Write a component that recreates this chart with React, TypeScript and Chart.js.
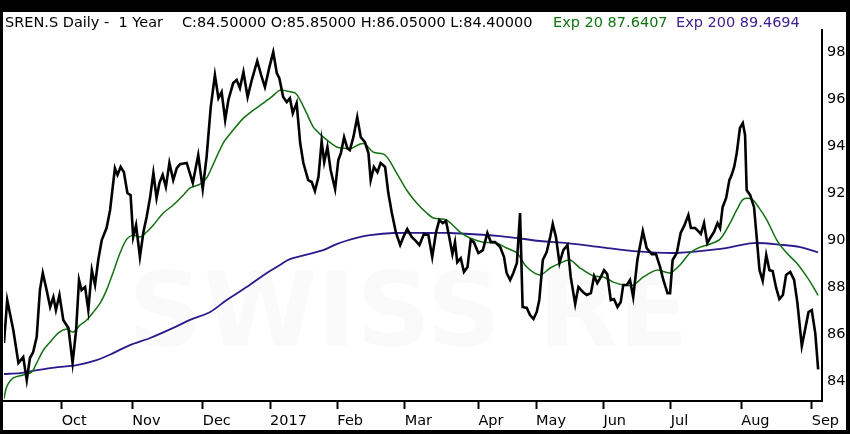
import React, { useEffect, useRef } from 'react';
import { Chart, registerables } from 'chart.js';

Chart.register(...registerables);

// Trading-day index (0 = first session shown) and daily close of SREN.S
const closeDays = [
  0.0, 1.0, 2.9, 4.5, 6.0, 7.1, 8.1, 9.1, 10.2, 11.2, 12.1, 13.3, 14.4, 15.4, 16.2, 17.3, 18.5, 20.1, 21.4, 22.5,
  23.4, 24.2, 25.3, 26.3, 27.4, 28.4, 29.4, 30.5, 32.0, 33.1, 34.6, 35.4, 36.4, 37.4, 38.5, 39.5, 40.3, 41.2, 42.4, 43.5,
  44.5, 45.6, 46.6, 47.6, 48.5, 49.5, 50.5, 51.6, 52.8, 53.9, 54.9, 57.0, 58.9, 60.6, 62.0, 63.2, 64.5, 65.8, 66.9, 67.9,
  69.0, 70.0, 71.5, 72.6, 73.6, 74.7, 76.0, 77.3, 79.0, 80.4, 81.4, 82.8, 84.0, 85.1, 85.9, 87.1, 88.2, 89.2, 90.1, 91.3,
  92.4, 93.4, 94.9, 96.0, 97.0, 98.1, 99.1, 99.9, 100.9, 101.9, 103.3, 104.3, 105.1, 106.1, 107.1, 107.9, 109.0, 110.2, 111.3, 112.6,
  113.7, 114.4, 115.4, 116.5, 117.5, 118.9, 119.9, 121.0, 122.3, 123.6, 124.6, 125.8, 127.2, 128.2, 129.6, 131.0, 132.4, 133.6, 134.8, 135.8,
  136.9, 137.9, 138.9, 139.9, 140.7, 141.4, 142.5, 143.5, 144.6, 145.6, 146.6, 148.0, 149.4, 150.8, 151.9, 153.2, 154.8, 156.0, 156.8, 157.9,
  158.9, 160.0, 161.0, 161.8, 163.1, 164.1, 165.2, 166.2, 167.0, 168.1, 169.3, 170.4, 171.2, 172.2, 173.3, 174.5, 175.8, 176.8, 178.2, 179.2,
  180.6, 181.8, 183.1, 184.1, 185.1, 186.2, 187.2, 188.2, 189.3, 190.3, 191.4, 192.4, 193.2, 194.3, 195.3, 196.3, 197.6, 199.3, 200.5, 202.1,
  203.4, 204.7, 205.7, 207.0, 207.8, 208.6, 209.9, 211.1, 212.2, 213.5, 214.3, 215.6, 216.6, 217.4, 218.4, 219.4, 220.5, 221.5, 222.6, 223.4,
  224.2, 225.3, 226.3, 227.0, 227.8, 228.6, 229.6, 230.5, 231.2, 231.7, 232.8, 234.0, 234.9, 235.7, 236.7, 237.8, 238.8, 239.8, 240.9, 241.9,
  243.0, 244.0, 245.3, 246.5, 247.5, 248.9, 249.9, 251.0, 252.0, 253.1, 254.0,
];
const closeValues = [
  85.62, 87.45, 86.17, 84.77, 85.02, 84.04, 84.98, 85.23, 85.87, 87.87, 88.6, 87.87, 87.15, 87.57, 87.02, 87.66, 86.6, 86.26, 84.77, 86.17,
  88.3, 87.87, 88.0, 87.02, 88.72, 88.09, 89.15, 90.0, 90.51, 91.28, 93.06, 92.77, 93.11, 92.89, 92.0, 91.91, 90.13, 90.64, 89.28, 90.34,
  90.98, 91.83, 92.85, 91.79, 92.43, 92.77, 92.26, 93.28, 92.55, 93.06, 93.23, 93.28, 92.43, 93.62, 92.17, 93.53, 95.66, 97.02, 96.04, 96.3,
  95.11, 95.96, 96.68, 96.81, 96.47, 97.15, 96.09, 96.81, 97.62, 96.94, 96.51, 97.36, 98.0, 97.11, 96.89, 96.09, 95.87, 96.04, 95.4, 95.83,
  94.13, 93.28, 92.55, 92.47, 92.09, 92.68, 94.21, 93.32, 93.96, 92.98, 92.17, 93.4, 93.7, 94.38, 93.91, 93.83, 94.38, 95.23, 94.38, 94.17,
  93.7, 92.55, 93.11, 92.89, 93.28, 93.11, 92.0, 91.15, 90.3, 89.79, 90.13, 90.47, 90.13, 90.0, 89.79, 90.26, 90.21, 89.28, 90.34, 90.85,
  90.72, 90.81, 90.13, 89.4, 89.91, 89.06, 89.23, 88.64, 88.85, 90.0, 89.91, 89.45, 89.57, 90.3, 89.91, 89.91, 89.7, 89.28, 88.6, 88.3,
  88.6, 89.02, 91.15, 87.15, 87.11, 86.81, 86.64, 86.94, 87.45, 89.15, 89.49, 90.13, 90.68, 90.13, 89.02, 89.57, 89.79, 88.43, 87.28, 88.0,
  87.79, 87.66, 87.74, 88.47, 88.17, 88.43, 88.72, 88.55, 87.45, 87.49, 87.15, 87.36, 88.09, 88.09, 88.3, 87.57, 89.15, 90.38, 89.66, 89.4,
  89.4, 88.85, 88.3, 87.74, 87.74, 89.15, 89.45, 90.3, 90.6, 91.06, 90.51, 90.51, 90.38, 90.26, 90.72, 89.87, 90.13, 90.34, 90.72, 90.51,
  91.4, 91.79, 92.55, 92.77, 93.11, 93.7, 94.77, 94.98, 94.47, 92.13, 91.91, 91.4, 90.0, 88.72, 88.26, 89.36, 88.72, 88.68, 87.96, 87.49,
  87.66, 88.51, 88.64, 88.3, 87.36, 85.49, 86.17, 86.94, 87.02, 86.04, 84.5,
];

// 20-day exponential moving average
const ema20Days = [
  0, 0.8, 2.9, 6.0, 8.6, 10.2, 12.3, 14.4, 16.9, 19.6, 21.6, 23.7, 25.8, 27.9, 30.0, 32.0, 34.1, 36.2, 38.3, 40.3,
  42.4, 44.5, 46.6, 49.7, 52.8, 55.9, 58.0, 61.2, 63.2, 65.3, 68.4, 71.5, 74.7, 77.8, 80.9, 83.5, 86.1, 88.2, 90.8, 92.4,
  94.4, 96.5, 98.6, 100.7, 103.8, 105.9, 108.5, 111.1, 112.6, 115.2, 118.9, 122.5, 125.6, 128.8, 131.9, 134.0, 138.1, 142.3, 145.4, 149.5,
  153.7, 156.8, 160.0, 163.1, 167.2, 170.4, 173.5, 176.6, 179.7, 183.9, 187.0, 190.1, 193.2, 196.4, 199.5, 203.7, 207.8, 210.9, 214.0, 217.2,
  220.3, 223.4, 226.5, 228.6, 230.7, 233.3, 235.4, 238.0, 241.1, 244.2, 247.3, 250.5, 252.5, 254.0,
];
const ema20Values = [
  83.25, 83.74, 84.13, 84.26, 84.38, 84.77, 85.32, 85.66, 86.04, 86.21, 86.09, 86.38, 86.6, 86.94, 87.32, 87.87, 88.64, 89.45, 90.04, 90.21,
  90.13, 90.34, 90.64, 91.15, 91.49, 91.91, 92.21, 92.38, 92.64, 93.23, 94.13, 94.68, 95.19, 95.53, 95.83, 96.09, 96.38, 96.34, 96.26, 95.96,
  95.4, 94.81, 94.51, 94.26, 93.96, 93.91, 93.91, 94.09, 94.09, 93.74, 93.62, 92.85, 92.13, 91.57, 91.15, 90.94, 90.85, 90.34, 90.09, 89.91,
  89.87, 89.66, 89.45, 88.85, 88.51, 88.81, 89.02, 89.15, 88.81, 88.47, 88.43, 88.21, 88.09, 88.09, 88.43, 88.72, 88.6, 88.94, 89.45, 89.7,
  89.83, 90.04, 90.72, 91.28, 91.74, 91.74, 91.4, 90.85, 90.0, 89.45, 89.02, 88.43, 88.0, 87.64,
];

// 200-day exponential moving average
const ema200Days = [
  0, 5.0, 9.1, 14.4, 22.7, 28.9, 34.1, 39.3, 45.6, 52.8, 58.0, 64.3, 69.5, 75.7, 82.0, 86.1, 89.2, 99.6, 103.8, 110.0,
  114.2, 121.5, 132.9, 139.2, 154.8, 167.2, 175.6, 186.0, 196.3, 209.9, 223.4, 233.8, 243.2, 248.4, 254.0,
];
const ema200Values = [
  84.3, 84.34, 84.43, 84.55, 84.68, 84.89, 85.19, 85.53, 85.83, 86.26, 86.6, 86.94, 87.45, 88.0, 88.6, 88.94, 89.19, 89.57, 89.83, 90.09,
  90.21, 90.3, 90.3, 90.3, 90.17, 89.96, 89.87, 89.7, 89.53, 89.45, 89.62, 89.87, 89.79, 89.7, 89.47,
];

// Month boundaries (trading-day index) and their labels
const monthTickDays = [18, 40, 62, 83, 104, 125, 148, 166, 187, 208, 230, 252];
const monthTickLabels = ['Oct', 'Nov', 'Dec', '2017', 'Feb', 'Mar', 'Apr', 'May', 'Jun', 'Jul', 'Aug', 'Sep'];

const priceTicks = [84, 86, 88, 90, 92, 94, 96, 98];

const titleParts = [
  { text: 'SREN.S Daily -  1 Year', color: '#000000', x: 5 },
  { text: 'C:84.50000 O:85.85000 H:86.05000 L:84.40000', color: '#000000', x: 182 },
  { text: 'Exp 20 87.6407', color: '#117311', x: 553 },
  { text: 'Exp 200 89.4694', color: '#3a1d8e', x: 676 },
];

const FONT = "'DejaVu Sans', Verdana, sans-serif";

function pairs(xs: number[], ys: number[]) {
  return xs.map((x, i) => ({ x, y: ys[i] }));
}

const framePlugin = {
  id: 'frame',
  beforeDraw(chart: any) {
    const ctx = chart.ctx;
    const w = chart.width;
    const h = chart.height;
    ctx.save();
    ctx.fillStyle = '#000000';
    ctx.fillRect(0, 0, w, h);
    ctx.fillStyle = '#ffffff';
    ctx.fillRect(3, 12, w - 7, h - 16);
    ctx.restore();
  },
  beforeDatasetsDraw(chart: any) {
    const ctx = chart.ctx;
    ctx.save();
    ctx.fillStyle = 'rgba(0,0,0,0.018)';
    ctx.font = `bold 104px ${FONT}`;
    ctx.textBaseline = 'alphabetic';
    ctx.textAlign = 'left';
    ctx.fillText('SWISS RE', 128, 346, 570);
    ctx.restore();
  },
  afterDraw(chart: any) {
    const ctx = chart.ctx;
    ctx.save();
    ctx.font = `14.5px ${FONT}`;
    ctx.textBaseline = 'alphabetic';
    ctx.textAlign = 'left';
    titleParts.forEach((p) => {
      ctx.fillStyle = p.color;
      ctx.fillText(p.text, p.x, 27);
    });
    ctx.restore();
  },
};

export default function App() {
  const canvasRef = useRef<HTMLCanvasElement | null>(null);

  useEffect(() => {
    document.body.style.margin = '0';
    const canvas = canvasRef.current;
    if (!canvas) return;
    const chart = new Chart(canvas, {
      type: 'line',
      data: {
        datasets: [
          {
            label: 'Close',
            data: pairs(closeDays, closeValues),
            borderColor: '#000000',
            borderWidth: 2.6,
            pointRadius: 0,
            tension: 0,
            fill: false,
          },
          {
            label: 'Exp 20',
            data: pairs(ema20Days, ema20Values),
            borderColor: '#11700f',
            borderWidth: 1.5,
            pointRadius: 0,
            tension: 0.3,
            fill: false,
          },
          {
            label: 'Exp 200',
            data: pairs(ema200Days, ema200Values),
            borderColor: '#2c1a8c',
            borderWidth: 1.8,
            pointRadius: 0,
            tension: 0.3,
            fill: false,
          },
        ],
      },
      options: {
        responsive: false,
        animation: false,
        devicePixelRatio: 1,
        layout: { padding: { left: 4, top: 30, right: 0, bottom: 0 } },
        plugins: {
          legend: { display: false },
          tooltip: { enabled: false },
          title: { display: false },
        },
        scales: {
          x: {
            type: 'linear',
            min: 0,
            max: 255.2,
            afterFit: (scale: any) => {
              scale.height = 33;
            },
            afterBuildTicks: (scale: any) => {
              scale.ticks = monthTickDays.map((v) => ({ value: v }));
            },
            grid: {
              display: true,
              drawOnChartArea: false,
              drawTicks: true,
              tickLength: 8,
              tickWidth: 2,
              tickColor: '#000000',
            },
            border: { display: true, color: '#000000', width: 2 },
            ticks: {
              autoSkip: false,
              maxRotation: 0,
              minRotation: 0,
              align: 'start',
              padding: 4,
              color: '#000000',
              font: { family: FONT, size: 14.5 },
              callback: (value: any) => {
                const i = monthTickDays.indexOf(Number(value));
                return i >= 0 ? monthTickLabels[i] : '';
              },
            },
          },
          y: {
            type: 'linear',
            position: 'right',
            min: 83.15,
            max: 98.94,
            afterFit: (scale: any) => {
              scale.width = 28;
            },
            afterBuildTicks: (scale: any) => {
              scale.ticks = priceTicks.map((v) => ({ value: v }));
            },
            grid: { display: false, drawTicks: false },
            border: { display: true, color: '#000000', width: 2 },
            ticks: {
              padding: 5,
              color: '#000000',
              font: { family: FONT, size: 14.5 },
              callback: (value: any) => String(value),
            },
          },
        },
      },
      plugins: [framePlugin],
    } as any);
    return () => {
      chart.destroy();
    };
  }, []);

  return (
    <div style={{ position: 'absolute', left: 0, top: 0, width: 850, height: 434 }}>
      <canvas ref={canvasRef} width={850} height={434} style={{ width: 850, height: 434, display: 'block' }} />
    </div>
  );
}
